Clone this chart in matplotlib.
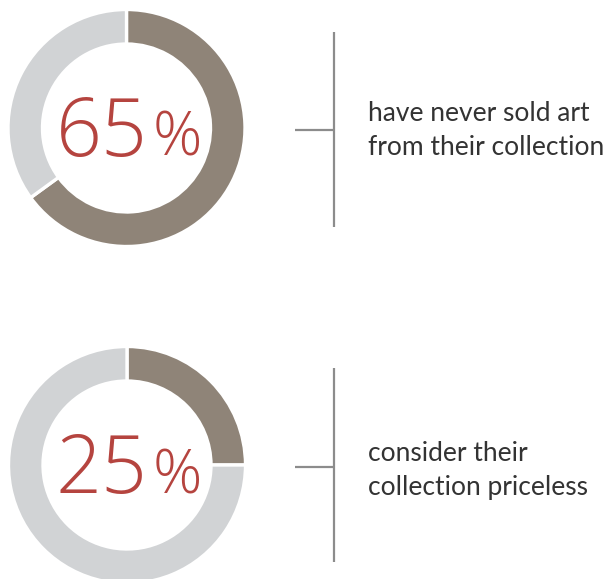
import matplotlib
matplotlib.use("Agg")
import matplotlib.pyplot as plt

W, H = 611, 579
DPI = 100

percents = [65, 25]
captions = [["have never sold art", "from their collection"],
            ["consider their", "collection priceless"]]

BROWN = "#8f8478"
LIGHT = "#d1d3d5"
RED = "#b5443f"
LINE = "#8c8c8c"
TEXT = "#333333"

plt.rcParams['font.family'] = ['Open Sans', 'DejaVu Sans']

fig = plt.figure(figsize=(W / DPI, H / DPI), dpi=DPI)
fig.patch.set_facecolor("white")

ov = fig.add_axes([0, 0, 1, 1], zorder=5)
ov.set_xlim(0, W)
ov.set_ylim(H, 0)
ov.axis("off")
ov.patch.set_alpha(0)

centers = [(126.5, 128.0), (127.0, 465.0)]
R = 118.5
inner = 84.0
line_specs = [(130, 32, 227), (467, 368, 562)]
cap_base = [(121, 155), (461, 495)]
num_base = [156, 493]

for pct, cap, (cx, cy), (hy, vy0, vy1), cb, nb in zip(percents, captions, centers,
                                                      line_specs, cap_base, num_base):
    ax = fig.add_axes([(cx - R) / W, (H - (cy + R)) / H, 2 * R / W, 2 * R / H], zorder=1)
    ax.pie([pct, 100 - pct], colors=[BROWN, LIGHT], startangle=90, counterclock=False,
           radius=1.0, wedgeprops=dict(width=(R - inner) / R, edgecolor="white", linewidth=2.4))
    ax.set_xlim(-1, 1)
    ax.set_ylim(-1, 1)
    ax.set_aspect("equal")
    ax.axis("off")

    ov.text(148, nb, f"{pct}", fontsize=58, color=RED, ha="right", va="baseline",
            fontweight="light")
    ov.text(153, nb, "%", fontsize=44, color=RED, ha="left", va="baseline",
            fontweight="light")

    ov.plot([334, 334], [vy0, vy1], color=LINE, lw=1.6, solid_capstyle="butt")
    ov.plot([295, 334], [hy, hy], color=LINE, lw=1.6, solid_capstyle="butt")

    for line, b in zip(cap, cb):
        ov.text(368, b, line, fontsize=19, color=TEXT, ha="left", va="baseline",
                family=["Lato", "DejaVu Sans"])

fig.savefig("out.png", dpi=DPI, facecolor="white")
